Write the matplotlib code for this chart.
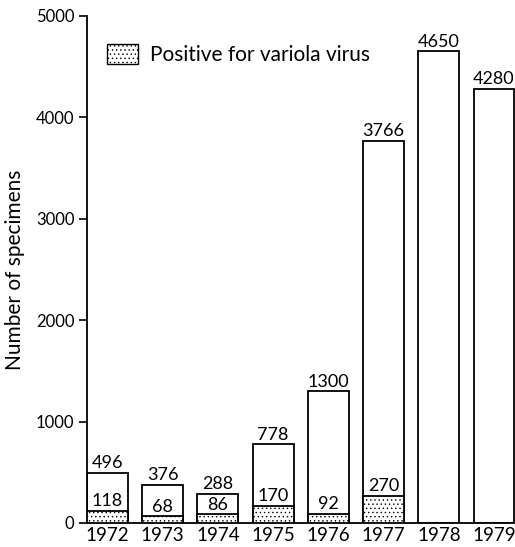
import numpy as np
import matplotlib.pyplot as plt
from matplotlib.patches import Patch

plt.rcParams['font.family'] = ['Lato', 'DejaVu Sans']
plt.rcParams['hatch.linewidth'] = 0.5
plt.rcParams['hatch.color'] = '#666666'

years = ['1972', '1973', '1974', '1975', '1976', '1977', '1978', '1979']
total = [496, 376, 288, 778, 1300, 3766, 4650, 4280]
positive = [118, 68, 86, 170, 92, 270, 0, 0]

fig = plt.figure(figsize=(5.15, 5.47), dpi=100)
ax = fig.add_axes([0.169, 0.044, 0.831, 0.927])

x = np.arange(len(years))
w = 0.74
ax.bar(x, total, width=w, facecolor='white', edgecolor='black', linewidth=1.3, zorder=2)
pos_idx = [i for i, p in enumerate(positive) if p > 0]
ax.bar(x[pos_idx], [positive[i] for i in pos_idx], width=w, facecolor='white',
       edgecolor='black', linewidth=1.3, hatch='....', zorder=3)

for i, t in enumerate(total):
    ax.text(x[i], t + 15, str(t), ha='center', va='bottom', fontsize=13)
for i in pos_idx:
    ax.text(x[i], positive[i] + 15, str(positive[i]), ha='center', va='bottom', fontsize=13)

ax.set_xlim(-0.37, 7.38)
ax.set_ylim(0, 5000)
ax.set_yticks([0, 1000, 2000, 3000, 4000, 5000])
ax.set_xticks(x)
ax.set_xticklabels(years, fontsize=13.5)
ax.tick_params(axis='x', length=0, pad=3)
ax.tick_params(axis='y', length=6, width=1.2, pad=3, labelsize=12)
for s in ['top', 'right']:
    ax.spines[s].set_visible(False)
ax.spines['left'].set_linewidth(1.3)
ax.spines['bottom'].set_linewidth(1.3)
ax.set_ylabel('Number of specimens', fontsize=15, labelpad=8)

ax.legend(handles=[Patch(facecolor='white', edgecolor='black', hatch='....', linewidth=1)],
          labels=['Positive for variola virus'], loc='upper left', bbox_to_anchor=(0.047, 0.945),
          frameon=False, fontsize=15, handlelength=1.5, handleheight=1.1, handletextpad=0.55,
          borderpad=0, borderaxespad=0)

fig.savefig('out.png', dpi=100)
